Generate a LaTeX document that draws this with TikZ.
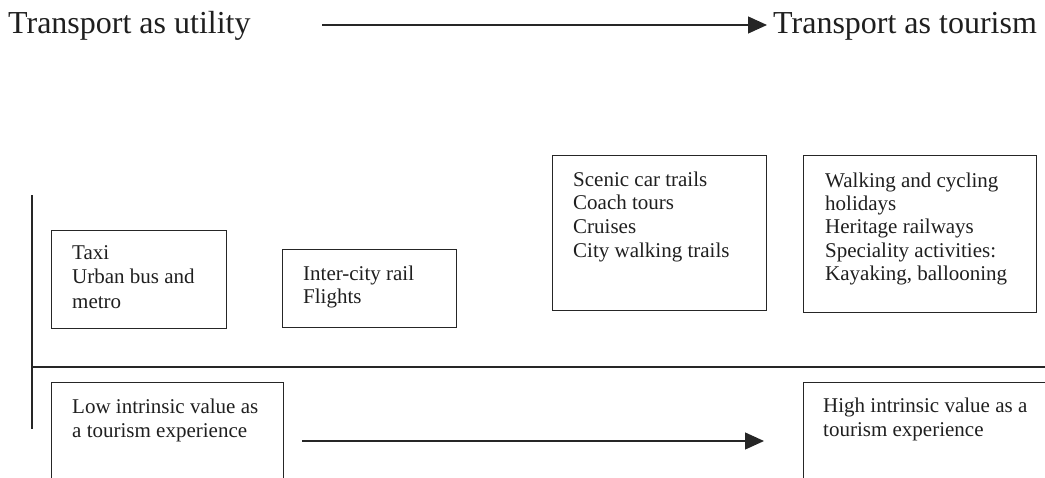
\documentclass[tikz,border=0pt]{standalone}
\usepackage{fontspec}
\setmainfont{Liberation Serif}
\usetikzlibrary{arrows.meta}
\begin{document}
\begin{tikzpicture}[x=1pt,y=-1pt,
  box/.style={draw=black!85, line width=1.3pt, inner sep=0pt, anchor=north west},
  txt/.style={inner sep=0pt, anchor=north west, align=left, font=\fontsize{21}{24.3}\selectfont, text=black!88},
  big/.style={inner sep=0pt, anchor=base west, font=\fontsize{32}{36}\selectfont, text=black!88},
  rule/.style={draw=black!85, line width=1.3pt},
  arr/.style={rule, -{Triangle[length=19pt,width=17pt]}}]
\useasboundingbox (0,0) rectangle (1045,477);
\clip (0,0) rectangle (1045,477);
% top labels and arrow
\node[big] (util) at (8,33) {Transport as utility};
\node[big] (tour) at (773,33) {Transport as tourism};
\coordinate (a1) at (322,25);
\coordinate (a2) at (767,25);
\draw[arr] (a1) -- (a2);
% axes
\coordinate (v1) at (32,195);
\coordinate (v2) at (32,429);
\coordinate (h1) at (32,367);
\coordinate (h2) at (1045,367);
\draw[rule] (v1) -- (v2);
\draw[rule] (h1) -- (h2);
% boxes
\node[box, minimum width=175pt, minimum height=98pt] (taxi) at (51,230) {};
\node[txt] (taxiT) at (72,245.5) {Taxi\\Urban bus and\\metro};
\node[box, minimum width=174pt, minimum height=78pt] (rail) at (282,249) {};
\node[txt, font=\fontsize{21}{22.5}\selectfont] (railT) at (303,266) {Inter-city rail\\Flights};
\node[box, minimum width=214pt, minimum height=155pt] (scenic) at (552,155) {};
\node[txt, font=\fontsize{21}{23.7}\selectfont] (scenicT) at (573,171.5) {Scenic car trails\\Coach tours\\Cruises\\City walking trails};
\node[box, minimum width=233pt, minimum height=157pt] (walk) at (803,155) {};
\node[txt, font=\fontsize{21}{23.3}\selectfont] (walkT) at (825,172.5) {Walking and cycling\\holidays\\Heritage railways\\Speciality activities:\\Kayaking, ballooning};
\node[box, minimum width=232pt, minimum height=120pt] (low) at (51,382) {};
\node[txt] (lowT) at (72,398.5) {Low intrinsic value as\\a tourism experience};
\node[box, minimum width=260pt, minimum height=120pt] (high) at (803,382) {};
\node[txt] (highT) at (823,397.5) {High intrinsic value as a\\tourism experience};
% bottom arrow
\coordinate (b1) at (302,441);
\coordinate (b2) at (764,441);
\draw[arr] (b1) -- (b2);
\end{tikzpicture}
\end{document}
